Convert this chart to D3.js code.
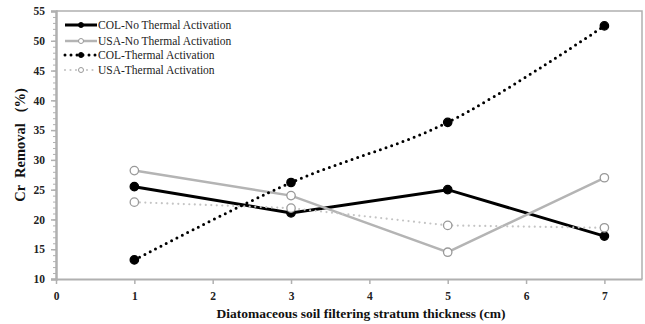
<!DOCTYPE html>
<html>
<head>
<meta charset="utf-8">
<script src="https://cdn.jsdelivr.net/npm/d3@7"></script>
<style>
  body { margin: 0; background: #fff; }
  text { font-family: "Liberation Serif", "DejaVu Serif", serif; }
</style>
</head>
<body>
<div id="chart"></div>
<script>
// data
const thickness = [1, 3, 5, 7];
const colNoThermal = [25.5, 21.1, 25.0, 17.2];
const usaNoThermal = [28.2, 24.0, 14.5, 27.0];
const colThermal = [13.2, 26.2, 36.3, 52.5];
const usaThermal = [22.9, 21.9, 19.0, 18.6];
const xTicks = [0, 1, 2, 3, 4, 5, 6, 7];
const yTicks = [10, 15, 20, 25, 30, 35, 40, 45, 50, 55];

const series = [
  { name: "COL-No Thermal Activation", values: colNoThermal, color: "#000", width: 3, dash: null, filled: true, smooth: false },
  { name: "USA-No Thermal Activation", values: usaNoThermal, color: "#b4b4b4", width: 2.5, dash: null, filled: false, smooth: false },
  { name: "COL-Thermal Activation", values: colThermal, color: "#000", width: 3, dash: "0,6", filled: true, smooth: true },
  { name: "USA-Thermal Activation", values: usaThermal, color: "#c4c4c4", width: 2.2, dash: "0,5.5", filled: false, smooth: false }
];

const width = 645, height = 324;
const margin = { top: 11, right: 3, bottom: 45, left: 56 };

const svg = d3.select("#chart").append("svg")
  .attr("width", width)
  .attr("height", height);

const x = d3.scaleLinear().domain([0, 7.48]).range([margin.left, width - margin.right]);
const y = d3.scaleLinear().domain([10, 55]).range([height - margin.bottom, margin.top]);

// frame (top and right)
svg.append("path")
  .attr("d", `M${x(0)},${y(55)}H${x(7.48)}V${y(10)}`)
  .attr("fill", "none")
  .attr("stroke", "#b0b0b0")
  .attr("stroke-width", 1.5);

// y axis with minor ticks
const yMinor = d3.range(10, 55.01, 1);
svg.append("g")
  .attr("transform", `translate(${x(0)},0)`)
  .call(d3.axisLeft(y).tickValues(yMinor).tickSize(3).tickFormat(""))
  .call(g => g.selectAll("line").attr("stroke", "#b0b0b0"))
  .call(g => g.select(".domain").remove());

const yAxis = svg.append("g")
  .attr("transform", `translate(${x(0)},0)`)
  .call(d3.axisLeft(y).tickValues(yTicks).tickSize(5).tickPadding(6));
yAxis.select(".domain").attr("stroke", "#b0b0b0").attr("stroke-width", 2.5);
yAxis.selectAll("line").attr("stroke", "#b0b0b0").attr("stroke-width", 1.5);
yAxis.selectAll("text")
  .attr("font-family", "Liberation Serif")
  .attr("font-weight", "bold")
  .attr("font-size", 11.5)
  .attr("fill", "#222");

const xAxis = svg.append("g")
  .attr("transform", `translate(0,${y(10)})`)
  .call(d3.axisBottom(x).tickValues(xTicks).tickSize(5).tickPadding(8).tickSizeOuter(0));
xAxis.select(".domain").attr("stroke", "#b0b0b0").attr("stroke-width", 2);
xAxis.selectAll("line").attr("stroke", "#b0b0b0").attr("stroke-width", 1.5);
xAxis.selectAll("text")
  .attr("font-family", "Liberation Serif")
  .attr("font-weight", "bold")
  .attr("font-size", 11.5)
  .attr("fill", "#222");

// axis titles
svg.append("text")
  .attr("x", 361)
  .attr("y", 318)
  .attr("text-anchor", "middle")
  .attr("font-weight", "bold")
  .attr("font-size", 13.5)
  .attr("fill", "#111")
  .text("Diatomaceous soil filtering stratum thickness (cm)");

svg.append("text")
  .attr("transform", `translate(25,${y(32.5)}) rotate(-90)`)
  .attr("text-anchor", "middle")
  .attr("font-weight", "bold")
  .attr("font-size", 14.5)
  .attr("fill", "#111")
  .attr("xml:space", "preserve")
  .text("Cr  Removal   (%)");

// lines
series.forEach(s => {
  const pts = thickness.map((t, i) => [t, s.values[i]]);
  const line = d3.line()
    .x(d => x(d[0]))
    .y(d => y(d[1]))
    .curve(s.smooth ? d3.curveCatmullRom.alpha(0.5) : d3.curveLinear);
  svg.append("path")
    .datum(pts)
    .attr("d", line)
    .attr("fill", "none")
    .attr("stroke", s.color)
    .attr("stroke-width", s.width)
    .attr("stroke-linecap", s.dash ? "round" : "butt")
    .attr("stroke-dasharray", s.dash);
});

// markers
series.forEach(s => {
  svg.append("g").selectAll("circle")
    .data(thickness.map((t, i) => [t, s.values[i]]))
    .join("circle")
    .attr("cx", d => x(d[0]))
    .attr("cy", d => y(d[1]))
    .attr("r", 4.2)
    .attr("fill", s.filled ? "#000" : "#fff")
    .attr("stroke", s.filled ? "#000" : "#999")
    .attr("stroke-width", 1.3);
});

// legend
const legend = svg.append("g").attr("transform", "translate(65,25)");
const rowY = [0, 16, 30, 45];
series.forEach((s, i) => {
  const g = legend.append("g").attr("transform", `translate(0,${rowY[i]})`);
  g.append("line")
    .attr("x1", 0).attr("x2", 32)
    .attr("stroke", s.color)
    .attr("stroke-width", s.width)
    .attr("stroke-linecap", s.dash ? "round" : "butt")
    .attr("stroke-dasharray", s.dash);
  g.append("circle")
    .attr("cx", 16)
    .attr("r", 2.5)
    .attr("fill", s.filled ? "#000" : "#fff")
    .attr("stroke", s.filled ? "#000" : "#999")
    .attr("stroke-width", 1);
  g.append("text")
    .attr("x", 33)
    .attr("dy", "0.35em")
    .attr("font-size", 11.5)
    .attr("fill", "#222")
    .text(s.name);
});
</script>
</body>
</html>
